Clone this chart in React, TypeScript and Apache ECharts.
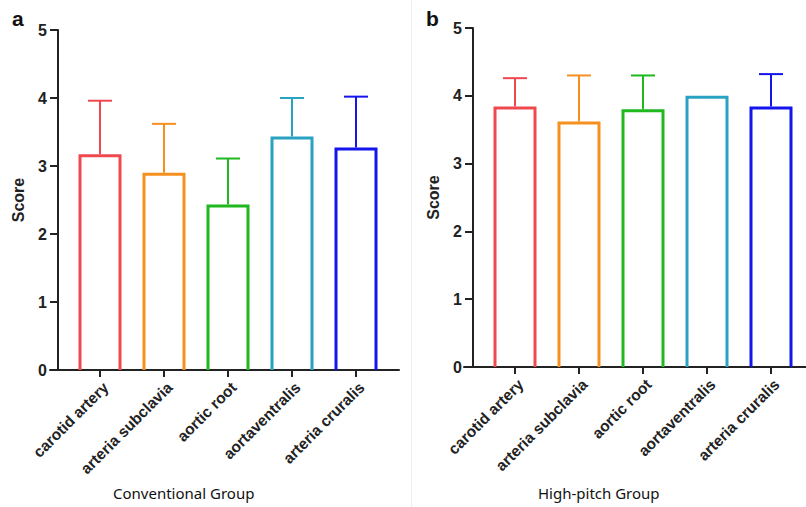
import React, { useEffect, useRef } from "react";
import * as echarts from "echarts";

const categories = ["carotid artery", "arteria subclavia", "aortic root", "aortaventralis", "arteria cruralis"];
const colors = ["#f0484f", "#f5901f", "#1fb81f", "#2aa3c2", "#1414ee"];
const conventionalMean = [3.15, 2.88, 2.41, 3.41, 3.25];
const conventionalUpper = [3.96, 3.62, 3.11, 4.0, 4.02];
const highPitchMean = [3.82, 3.6, 3.78, 3.98, 3.82];
const highPitchUpper = [4.26, 4.3, 4.3, 3.98, 4.32];
const yTicks = [0, 1, 2, 3, 4, 5];
const panelLabels = ["a", "b"];
const groupTitles = ["Conventional Group", "High-pitch Group"];

export default function App() {
  const ref = useRef<HTMLDivElement>(null);
  useEffect(() => {
    if (!ref.current) return;
    const chart = echarts.init(ref.current, null, { renderer: "svg" });
    const grids = [
      { left: 68, width: 320, top: 30, height: 340 },
      { left: 483, width: 320, top: 28, height: 339 },
      { left: 50, width: 349, top: 30, height: 340 },
      { left: 464, width: 342, top: 28, height: 339 },
    ];
    const catAxis = (gi: number) => ({
      type: "category",
      gridIndex: gi,
      data: categories,
      axisLine: { show: false },
      axisTick: { show: true, alignWithLabel: true, length: 7, lineStyle: { color: "#222", width: 2 } },
      axisLabel: {
        rotate: 45,
        interval: 0,
        margin: 9,
        verticalAlign: "top",
        color: "#222",
        fontFamily: "Liberation Sans",
        fontWeight: "bold",
        fontSize: 15.5,
      },
    });
    const lineAxis = (gi: number) => ({
      type: "value",
      gridIndex: gi,
      min: 0,
      max: 1,
      axisLine: { show: true, onZero: false, lineStyle: { color: "#222", width: 2 } },
      axisTick: { show: false },
      axisLabel: { show: false },
      splitLine: { show: false },
    });
    const valAxis = (gi: number) => ({
      type: "value",
      gridIndex: gi,
      min: yTicks[0],
      max: yTicks[yTicks.length - 1],
      interval: 1,
      offset: 10,
      name: "Score",
      nameLocation: "middle",
      nameGap: 32,
      nameTextStyle: { color: "#222", fontFamily: "Liberation Sans", fontWeight: "bold", fontSize: 16 },
      axisLine: { show: true, lineStyle: { color: "#222", width: 2 } },
      axisTick: { show: true, length: 8, lineStyle: { color: "#222", width: 2 } },
      axisLabel: { color: "#222", fontFamily: "Liberation Sans", fontWeight: "bold", fontSize: 16, margin: 11 },
      splitLine: { show: false },
    });
    const hiddenVal = (gi: number) => ({ type: "value", gridIndex: gi, show: false, min: 0, max: 1 });

    const barSeries = (axisIdx: number, vals: number[]) => ({
      type: "custom",
      xAxisIndex: axisIdx,
      yAxisIndex: axisIdx,
      z: 2,
      data: vals.map((v, i) => [i, v]),
      renderItem: (params: any, api: any) => {
        const i = api.value(0);
        const top = api.coord([i, api.value(1)]);
        const base = api.coord([i, 0]);
        const hw = 20;
        return {
          type: "polyline",
          shape: {
            points: [
              [top[0] - hw, base[1]],
              [top[0] - hw, top[1]],
              [top[0] + hw, top[1]],
              [top[0] + hw, base[1]],
            ],
          },
          style: { stroke: colors[i], lineWidth: 3, fill: "none", lineJoin: "miter" },
        };
      },
    });
    const errSeries = (axisIdx: number, mean: number[], upper: number[]) => ({
      type: "custom",
      xAxisIndex: axisIdx,
      yAxisIndex: axisIdx,
      z: 3,
      data: mean.map((m, i) => [i, m, upper[i]]),
      renderItem: (params: any, api: any) => {
        const i = api.value(0);
        const lo = api.coord([i, api.value(1)]);
        const hi = api.coord([i, api.value(2)]);
        const c = colors[i];
        if (Math.abs(lo[1] - hi[1]) < 1) return { type: "group", children: [] };
        return {
          type: "group",
          children: [
            { type: "line", shape: { x1: lo[0], y1: lo[1] - 1.5, x2: hi[0], y2: hi[1] }, style: { stroke: c, lineWidth: 2 } },
            { type: "line", shape: { x1: hi[0] - 12, y1: hi[1], x2: hi[0] + 12, y2: hi[1] }, style: { stroke: c, lineWidth: 2 } },
          ],
        };
      },
    });

    chart.setOption({
      animation: false,
      backgroundColor: "#ffffff",
      grid: grids,
      xAxis: [catAxis(0), catAxis(1), { ...lineAxis(2), position: "bottom" }, { ...lineAxis(3), position: "bottom" }],
      yAxis: [valAxis(0), valAxis(1), hiddenVal(2), hiddenVal(3)],
      series: [
        barSeries(0, conventionalMean),
        errSeries(0, conventionalMean, conventionalUpper),
        barSeries(1, highPitchMean),
        errSeries(1, highPitchMean, highPitchUpper),
      ],
      graphic: [
        { type: "line", shape: { x1: 411.5, y1: 0, x2: 411.5, y2: 507 }, style: { stroke: "#eeeeee", lineWidth: 1 } },
        { type: "text", left: 12, top: 8, style: { text: panelLabels[0], font: "bold 21px Liberation Sans", fill: "#111" } },
        { type: "text", left: 426, top: 8, style: { text: panelLabels[1], font: "bold 21px Liberation Sans", fill: "#111" } },
        { type: "text", left: 113, top: 485, style: { text: groupTitles[0], font: "15px Noto Sans", fill: "#111" } },
        { type: "text", left: 538, top: 485, style: { text: groupTitles[1], font: "15px Noto Sans", fill: "#111" } },
      ],
    });
    return () => chart.dispose();
  }, []);
  return <div ref={ref} style={{ width: 806, height: 507, position: "absolute", left: 0, top: 0 }} />;
}
